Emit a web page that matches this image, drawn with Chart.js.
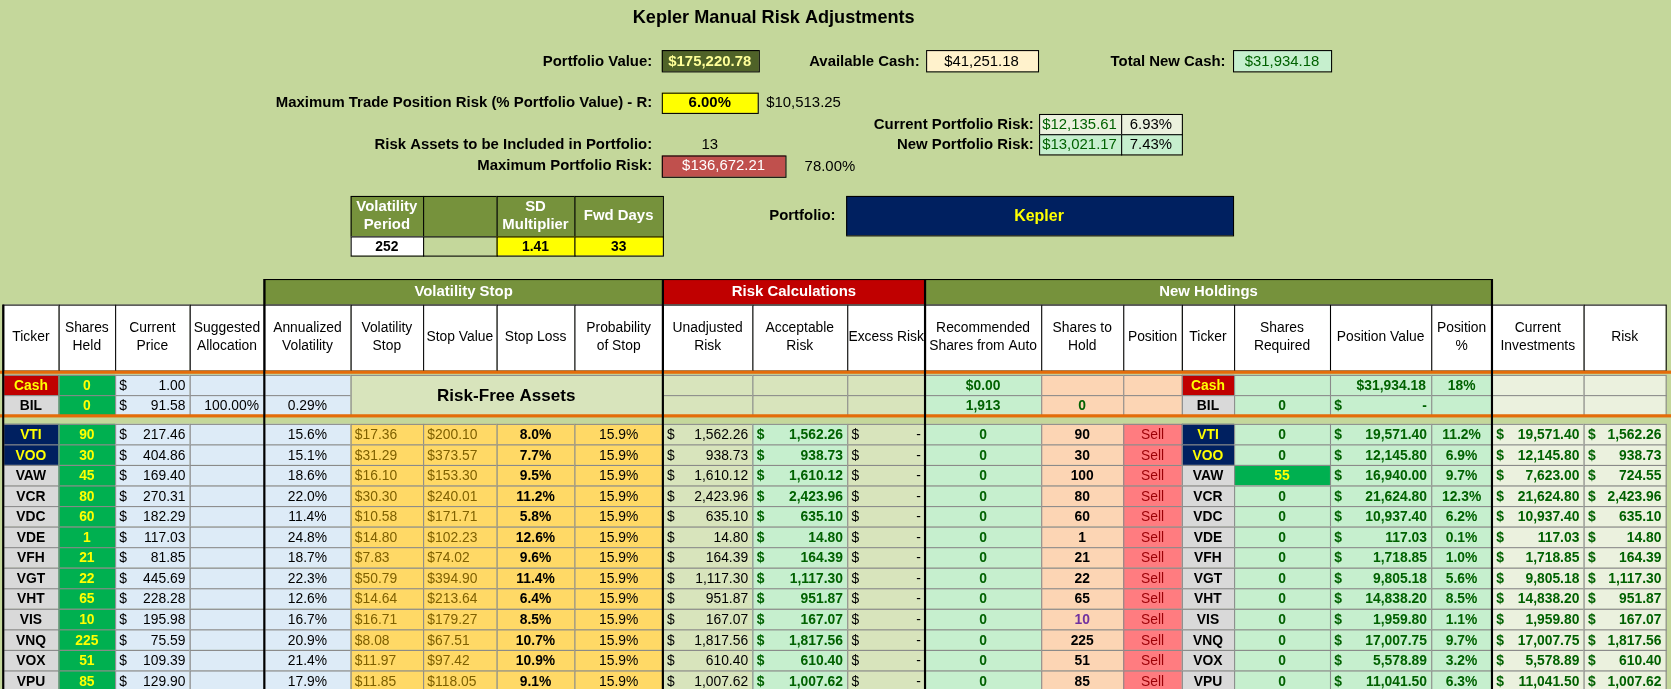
<!DOCTYPE html>
<html><head><meta charset="utf-8">
<script src="https://cdn.jsdelivr.net/npm/chart.js@4"></script>
<style>html,body{margin:0;padding:0;background:#c4d79b}#w{width:1671px;height:689px;position:relative}</style>
</head><body><div id="w"><canvas id="c"></canvas></div>
<script>
const tickers=["VTI","VOO","VAW","VCR","VDC","VDE","VFH","VGT","VHT","VIS","VNQ","VOX","VPU"];
const sharesHeld=[90,30,45,80,60,1,21,22,65,10,225,51,85];
const prices=[217.46,404.86,169.40,270.31,182.29,117.03,81.85,445.69,228.28,195.98,75.59,109.39,129.90];
const annVol=["15.6%","15.1%","18.6%","22.0%","11.4%","24.8%","18.7%","22.3%","12.6%","16.7%","20.9%","21.4%","17.9%"];
const volStop=[17.36,31.29,16.10,30.30,10.58,14.80,7.83,50.79,14.64,16.71,8.08,11.97,11.85];
const stopValue=[200.10,373.57,153.30,240.01,171.71,102.23,74.02,394.90,213.64,179.27,67.51,97.42,118.05];
const stopLoss=["8.0%","7.7%","9.5%","11.2%","5.8%","12.6%","9.6%","11.4%","6.4%","8.5%","10.7%","10.9%","9.1%"];
const probStop=["15.9%","15.9%","15.9%","15.9%","15.9%","15.9%","15.9%","15.9%","15.9%","15.9%","15.9%","15.9%","15.9%"];
const unadjRisk=[1562.26,938.73,1610.12,2423.96,635.10,14.80,164.39,1117.30,951.87,167.07,1817.56,610.40,1007.62];
const acceptRisk=[1562.26,938.73,1610.12,2423.96,635.10,14.80,164.39,1117.30,951.87,167.07,1817.56,610.40,1007.62];
const recShares=[0,0,0,0,0,0,0,0,0,0,0,0,0];
const sharesHold=[90,30,100,80,60,1,21,22,65,10,225,51,85];
const sharesReq=[0,0,55,0,0,0,0,0,0,0,0,0,0];
const posValue=[19571.40,12145.80,16940.00,21624.80,10937.40,117.03,1718.85,9805.18,14838.20,1959.80,17007.75,5578.89,11041.50];
const posPct=["11.2%","6.9%","9.7%","12.3%","6.2%","0.1%","1.0%","5.6%","8.5%","1.1%","9.7%","3.2%","6.3%"];
const curInv=[19571.40,12145.80,7623.00,21624.80,10937.40,117.03,1718.85,9805.18,14838.20,1959.80,17007.75,5578.89,11041.50];
const riskVals=[1562.26,938.73,724.55,2423.96,635.10,14.80,164.39,1117.30,951.87,167.07,1817.56,610.40,1007.62];
const headers=["Ticker","Shares\nHeld","Current\nPrice","Suggested\nAllocation","Annualized\nVolatility","Volatility\nStop","Stop Value","Stop Loss","Probability\nof Stop","Unadjusted\nRisk","Acceptable\nRisk","Excess Risk","Recommended\nShares from Auto","Shares to\nHold","Position","Ticker","Shares\nRequired","Position Value","Position\n%","Current\nInvestments","Risk"];
const colX=[3,55,108,178,248,329,397,466,539,622,706,795,868,977,1054,1109,1158,1248,1343,1400,1486,1563];

const F='"Liberation Sans", Arial, sans-serif';
const fmt=v=>v.toLocaleString('en-US',{minimumFractionDigits:2,maximumFractionDigits:2});
const sheet={id:'sheet',afterDraw(chart){
 const c=chart.ctx;c.save();c.scale(chart.width/1568,chart.height/647);
 function box(x0,y0,x1,y1,bg,bc){if(bg){c.fillStyle=bg;c.fillRect(x0,y0,x1-x0,y1-y0);}if(bc!==null){c.strokeStyle=bc||'#000';c.lineWidth=1;c.strokeRect(x0+.5,y0+.5,x1-x0,y1-y0);}}
 function txt(s,x,y,o={}){c.font=(o.b?'bold ':'')+(o.s||13)+'px '+F;c.fillStyle=o.c||'#000';c.textAlign=o.a||'left';c.textBaseline='middle';c.fillText(s,x,y);}
 function cell(i,y0,y1,bg,s,o={}){const x0=colX[i],x1=colX[i+1];box(x0,y0,x1,y1,bg,o.bc===undefined?'#8a8a8a':o.bc);const ym=(y0+y1)/2+1;
  if(s===undefined||s===null)return;
  if(o.cur){txt('$',x0+4,ym,o);txt(s,x1-4,ym,Object.assign({},o,{a:'right'}));}
  else if(o.a==='right')txt(s,x1-5,ym,o);else if(o.a==='left')txt(s,x0+4,ym,o);else txt(s,(x0+x1)/2,ym,Object.assign({},o,{a:'center'}));}
 txt('Kepler Manual Risk Adjustments',726,17,{b:1,s:17,a:'center'});
 txt('Portfolio Value:',612,58,{b:1,s:14,a:'right'});box(621,47,712,67,'#4f6228');txt('$175,220.78',666,58,{b:1,s:14,c:'#ffff99',a:'center'});
 txt('Available Cash:',863,58,{b:1,s:14,a:'right'});box(869,47,974,67,'#fff2cc');txt('$41,251.18',921,58,{s:14,a:'center'});
 txt('Total New Cash:',1150,58,{b:1,s:14,a:'right'});box(1157,47,1249,67,'#c6efce');txt('$31,934.18',1203,58,{s:14,c:'#006100',a:'center'});
 txt('Maximum Trade Position Risk (% Portfolio Value) - R:',612,97,{b:1,s:14,a:'right'});box(621,87,711,106,'#ffff00');txt('6.00%',666,97,{b:1,s:14,a:'center'});txt('$10,513.25',719,97,{s:14});
 txt('Current Portfolio Risk:',970,117,{b:1,s:14,a:'right'});box(975,107,1052,126,'#ebf1de');txt('$12,135.61',1013,117,{s:14,c:'#006100',a:'center'});box(1052,107,1109,126,'#ebf1de');txt('6.93%',1080,117,{s:14,a:'center'});
 txt('New Portfolio Risk:',970,136,{b:1,s:14,a:'right'});box(975,126,1052,145,'#c6efce');txt('$13,021.17',1013,136,{s:14,c:'#006100',a:'center'});box(1052,126,1109,145,'#c6efce');txt('7.43%',1080,136,{s:14,a:'center'});
 txt('Risk Assets to be Included in Portfolio:',612,136,{b:1,s:14,a:'right'});txt('13',666,136,{s:14,a:'center'});
 txt('Maximum Portfolio Risk:',612,156,{b:1,s:14,a:'right'});box(621,146,737,166,'#c0504d');txt('$136,672.21',679,156,{s:14,c:'#fff',a:'center'});txt('78.00%',755,157,{s:14});
 const sm=[[329,397,'Volatility\nPeriod','252','#fff'],[397,466,'','','#c4d79b'],[466,539,'SD\nMultiplier','1.41','#ffff00'],[539,622,'Fwd Days','33','#ffff00']];
 sm.forEach(([a,b,h,v,bg])=>{box(a,184,b,222,'#76923c','#000');const L=h.split('\n');L.forEach((l,k)=>txt(l,(a+b)/2,203+(k-(L.length-1)/2)*17,{b:1,s:14,c:'#fff',a:'center'}));box(a,222,b,240,bg,'#000');txt(v,(a+b)/2,232,{b:1,a:'center'});});
 txt('Portfolio:',784,203,{b:1,s:14,a:'right'});box(794,184,1157,221,'#002060');txt('Kepler',975,203,{b:1,s:15,c:'#ffff00',a:'center'});
 box(248,262,622,286,'#76923c','#000');txt('Volatility Stop',435,274,{b:1,s:14,c:'#fff',a:'center'});
 box(622,262,868,286,'#c00000','#000');txt('Risk Calculations',745,274,{b:1,s:14,c:'#fff',a:'center'});
 box(868,262,1400,286,'#76923c','#000');txt('New Holdings',1134,274,{b:1,s:14,c:'#fff',a:'center'});
 headers.forEach((h,i)=>{box(colX[i],286,colX[i+1],348,'#fff','#000');const L=h.split('\n');L.forEach((l,k)=>txt(l,(colX[i]+colX[i+1])/2,317+(k-(L.length-1)/2)*17,{a:'center'}));});
 const rf=[[352,371,'Cash','#c00000','#ffff00','', '$0.00','', '$31,934.18','18%'],[371,390,'BIL','#d9d9d9','#000','100.00%','1,913','0','-','']];
 rf.forEach(([y0,y1,t,tb,tc,al,rs,sh,pv,pp],k)=>{
  cell(0,y0,y1,tb,t,{b:1,c:tc});cell(1,y0,y1,'#00b050','0',{b:1,c:'#ffff00'});
  cell(2,y0,y1,'#ddebf7',k?'91.58':'1.00',{cur:1});
  cell(3,y0,y1,'#ddebf7',al,{a:'right'});cell(4,y0,y1,'#ddebf7',k?'0.29%':'',{});
  [9,10,11].forEach(i=>cell(i,y0,y1,'#d8e4bc',''));
  cell(12,y0,y1,'#c6efce',rs,{b:1,c:'#006100'});cell(13,y0,y1,'#fcd5b4',sh,{b:1,c:'#006100'});cell(14,y0,y1,'#fcd5b4','');
  cell(15,y0,y1,tb,t,{b:1,c:tc});cell(16,y0,y1,'#c6efce',k?'0':'',{b:1,c:'#006100'});
  if(k==0)cell(17,y0,y1,'#c6efce',pv,{b:1,c:'#006100',a:'right'});else cell(17,y0,y1,'#c6efce','-',{b:1,c:'#006100',cur:1});
  cell(18,y0,y1,'#c6efce',pp,{b:1,c:'#006100'});cell(19,y0,y1,'#ebf1de','');cell(20,y0,y1,'#ebf1de','');
 });
 box(329,352,622,390,'#d8e4bc','#8a8a8a');txt('Risk-Free Assets',475,372,{b:1,s:16,a:'center'});
 c.fillStyle='#e46c0a';c.fillRect(0,348,1568,3);c.fillRect(0,389,1568,3);
 tickers.forEach((t,r)=>{const y0=398+r*19.3,y1=y0+19.3;const navy=r<2;
  cell(0,y0,y1,navy?'#002060':'#d9d9d9',t,{b:1,c:navy?'#ffff00':'#000'});
  cell(1,y0,y1,'#00b050',String(sharesHeld[r]),{b:1,c:'#ffff00'});
  cell(2,y0,y1,'#ddebf7',fmt(prices[r]),{cur:1});cell(3,y0,y1,'#ddebf7','');
  cell(4,y0,y1,'#ddebf7',annVol[r]);
  cell(5,y0,y1,'#ffd966','$'+fmt(volStop[r]),{a:'left',c:'#7f6000'});
  cell(6,y0,y1,'#ffd966','$'+fmt(stopValue[r]),{a:'left',c:'#7f6000'});
  cell(7,y0,y1,'#ffd966',stopLoss[r],{b:1});cell(8,y0,y1,'#ffd966',probStop[r]);
  cell(9,y0,y1,'#d8e4bc',fmt(unadjRisk[r]),{cur:1});
  cell(10,y0,y1,'#c6efce',fmt(acceptRisk[r]),{cur:1,b:1,c:'#006100'});
  cell(11,y0,y1,'#d8e4bc','-',{cur:1});
  cell(12,y0,y1,'#c6efce',String(recShares[r]),{b:1,c:'#006100'});
  cell(13,y0,y1,'#fcd5b4',String(sharesHold[r]),{b:1,c:r===9?'#7030a0':'#000'});
  cell(14,y0,y1,'#ff7c80','Sell',{c:'#9c0006'});
  cell(15,y0,y1,navy?'#002060':'#d9d9d9',t,{b:1,c:navy?'#ffff00':'#000'});
  cell(16,y0,y1,sharesReq[r]?'#00b050':'#c6efce',String(sharesReq[r]),{b:1,c:sharesReq[r]?'#ffff00':'#006100'});
  cell(17,y0,y1,'#c6efce',fmt(posValue[r]),{cur:1,b:1,c:'#006100'});
  cell(18,y0,y1,'#c6efce',posPct[r],{b:1,c:'#006100'});
  cell(19,y0,y1,'#ebf1de',fmt(curInv[r]),{cur:1,b:1,c:'#006100'});
  cell(20,y0,y1,'#ebf1de',fmt(riskVals[r]),{cur:1,b:1,c:'#006100'});
 });
 c.strokeStyle='#000';c.lineWidth=2;
 [248,622,868,1400].forEach(x=>{c.beginPath();c.moveTo(x,262);c.lineTo(x,647);c.stroke();});
 c.beginPath();c.moveTo(3,286);c.lineTo(3,647);c.stroke();
 c.restore();}};
new Chart(document.getElementById('c'),{type:'bar',data:{labels:tickers,datasets:[{data:[],hidden:true}]},
 options:{responsive:true,maintainAspectRatio:false,animation:false,events:[],plugins:{legend:{display:false},tooltip:{enabled:false}},
 scales:{x:{display:false},y:{display:false}},layout:{padding:0}},plugins:[sheet]});
</script></body></html>
